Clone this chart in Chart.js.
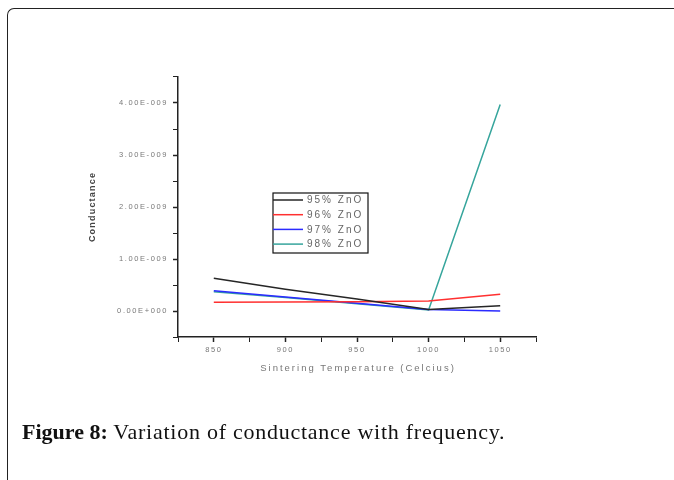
<!DOCTYPE html>
<html lang="en">
<head>
    <meta charset="UTF-8">
    <title>Variation of conductance with frequency</title>
    <script src="https://cdn.jsdelivr.net/npm/chart.js"></script>
    <style>
        body {
            margin: 0;
            background: #fff;
            width: 674px;
            height: 480px;
            overflow: hidden;
            position: relative;
        }
        #frame {
            position: absolute;
            left: 7px;
            top: 7.5px;
            width: 700px;
            height: 500px;
            border-top: 1.5px solid #222;
            border-left: 1.5px solid #222;
            border-top-left-radius: 7px;
        }
        #chartBox {
            position: absolute;
            left: 0;
            top: 0;
            width: 674px;
            height: 480px;
        }
        #caption {
            position: absolute;
            left: 22px;
            top: 419px;
            font-family: "Liberation Serif", serif;
            font-size: 22px;
            color: #111;
            white-space: nowrap;
        }
        #caption span {
            letter-spacing: 0.75px;
        }
    </style>
</head>
<body>
    <div id="frame"></div>
    <div id="chartBox"><canvas id="condChart" width="674" height="480"></canvas></div>
    <div id="caption"><b>Figure 8:</b> <span>Variation of conductance with frequency.</span></div>

    <script>
        // values
        const temperatures = [850, 900, 950, 1000, 1050];
        const seriesLabels = ['95% ZnO', '96% ZnO', '97% ZnO', '98% ZnO'];
        const zno95 = [6.3e-10, 4.2e-10, 2.3e-10, 3.0e-11, 1.0e-10];
        const zno96 = [1.7e-10, 1.75e-10, 1.8e-10, 1.9e-10, 3.2e-10];
        const zno97 = [3.9e-10, 2.7e-10, 1.5e-10, 3.0e-11, 0];
        const zno98 = [3.7e-10, 2.6e-10, 1.4e-10, 2.0e-11, 3.97e-9];
        const xTickValues = [850, 900, 950, 1000, 1050];
        const yTickValues = [0, 1e-9, 2e-9, 3e-9, 4e-9];
        const yTickLabels = ['0.00E+000', '1.00E-009', '2.00E-009', '3.00E-009', '4.00E-009'];

        const colors = ['#262626', '#ff3030', '#2b2bff', '#36a59c'];
        const allSeries = [zno95, zno96, zno97, zno98];

        function yLabel(v) {
            const i = yTickValues.findIndex(t => Math.abs(t - v) < 1e-12);
            return i >= 0 ? yTickLabels[i] : '';
        }
        function xLabel(v) {
            return xTickValues.includes(Math.round(v)) ? String(Math.round(v)) : '';
        }

        // axis titles + boxed legend, Origin style
        const extras = {
            id: 'extras',
            beforeDraw(chart) {
                chart.ctx.letterSpacing = '1.6px';
            },
            afterDraw(chart) {
                const ctx = chart.ctx;
                const area = chart.chartArea;
                ctx.save();
                ctx.letterSpacing = '2px';
                ctx.fillStyle = '#777';
                ctx.font = '9.5px Arial, "Liberation Sans", sans-serif';
                ctx.textAlign = 'center';
                ctx.textBaseline = 'middle';
                ctx.fillText('Sintering Temperature (Celcius)', (area.left + area.right) / 2 + 1, 368);

                ctx.translate(93, 207);
                ctx.rotate(-Math.PI / 2);
                ctx.letterSpacing = '1.2px';
                ctx.fillStyle = '#444';
                ctx.font = 'bold 9px Arial, "Liberation Sans", sans-serif';
                ctx.fillText('Conductance', 0, 0);
                ctx.restore();

                // legend
                ctx.save();
                const lx = 273, ly = 193, lw = 95, lh = 60;
                ctx.strokeStyle = '#111';
                ctx.lineWidth = 1.2;
                ctx.strokeRect(lx, ly, lw, lh);
                ctx.font = '10px Arial, "Liberation Sans", sans-serif';
                ctx.letterSpacing = '2px';
                ctx.textBaseline = 'middle';
                ctx.textAlign = 'left';
                chart.data.datasets.forEach((ds, i) => {
                    const yy = 200 + i * 14.7;
                    ctx.strokeStyle = ds.borderColor;
                    ctx.lineWidth = 1.5;
                    ctx.beginPath();
                    ctx.moveTo(lx, yy);
                    ctx.lineTo(lx + 30, yy);
                    ctx.stroke();
                    ctx.fillStyle = '#666';
                    ctx.fillText(ds.label, lx + 34, yy + 0.5);
                });
                ctx.restore();
                ctx.letterSpacing = '0px';
            }
        };

        const ctx = document.getElementById('condChart').getContext('2d');
        new Chart(ctx, {
            type: 'line',
            data: {
                datasets: allSeries.map((vals, i) => ({
                    label: seriesLabels[i],
                    data: temperatures.map((t, j) => ({ x: t, y: vals[j] })),
                    borderColor: colors[i],
                    backgroundColor: colors[i],
                    borderWidth: 1.5,
                    pointRadius: 0,
                    tension: 0,
                    fill: false
                }))
            },
            options: {
                responsive: false,
                animation: false,
                layout: { padding: { left: 0, top: 77, right: 138, bottom: 0 } },
                plugins: {
                    legend: { display: false },
                    tooltip: { enabled: false }
                },
                scales: {
                    x: {
                        type: 'linear',
                        min: 825,
                        max: 1075,
                        afterFit: s => { s.height = 143; },
                        afterBuildTicks: s => {
                            s.ticks = [];
                            for (let v = 825; v <= 1075; v += 25) s.ticks.push({ value: v });
                        },
                        ticks: {
                            autoSkip: false,
                            maxRotation: 0,
                            padding: 3,
                            color: '#777',
                            font: { size: 7.5, family: 'Arial, "Liberation Sans", sans-serif' },
                            callback: v => xLabel(v)
                        },
                        grid: {
                            drawOnChartArea: false,
                            tickLength: 5,
                            tickColor: '#222',
                            tickWidth: c => (xLabel(c.tick.value) ? 1.5 : 1)
                        },
                        border: { color: '#222', width: 1.5 }
                    },
                    y: {
                        min: -0.5e-9,
                        max: 4.5e-9,
                        afterFit: s => { s.width = 178; },
                        afterBuildTicks: s => {
                            s.ticks = [];
                            for (let k = -1; k <= 9; k++) s.ticks.push({ value: k * 0.5e-9 });
                        },
                        ticks: {
                            autoSkip: false,
                            padding: 5,
                            color: '#777',
                            font: { size: 7.5, family: 'Arial, "Liberation Sans", sans-serif' },
                            callback: v => yLabel(v)
                        },
                        grid: {
                            drawOnChartArea: false,
                            tickLength: 5,
                            tickColor: '#222',
                            tickWidth: c => (yLabel(c.tick.value) ? 1.5 : 1)
                        },
                        border: { color: '#222', width: 1.5 }
                    }
                }
            },
            plugins: [extras]
        });
    </script>
</body>
</html>
